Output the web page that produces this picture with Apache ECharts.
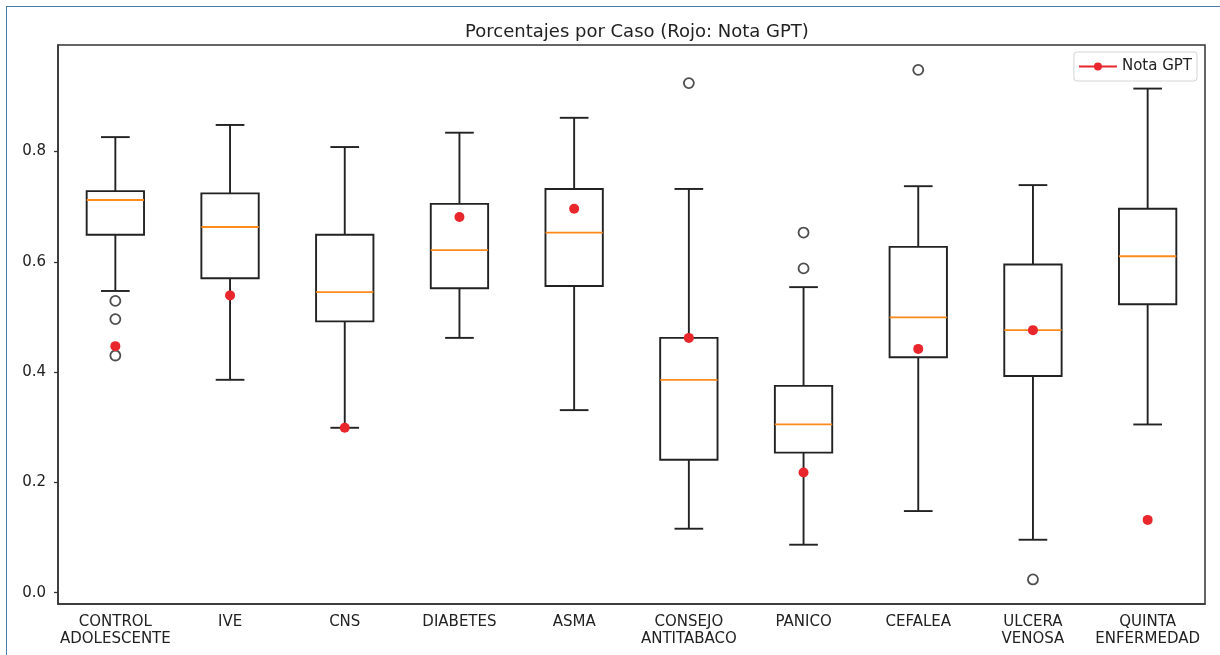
<!DOCTYPE html>
<html>
<head>
<meta charset="utf-8">
<title>Porcentajes por Caso</title>
<script src="https://cdn.jsdelivr.net/npm/echarts@6/dist/echarts.min.js"></script>
<style>
  html, body { margin: 0; padding: 0; background: #fff; }
  #frame {
    position: absolute; left: 6px; top: 6px; width: 1400px; height: 900px;
    border-left: 1.5px solid #4a7cab; border-top: 1.5px solid #4a7cab;
  }
  #main { position: absolute; left: 0; top: 0; width: 1220px; height: 655px; }
</style>
</head>
<body>
<div id="frame"></div>
<div id="main"></div>
<script>
// casos (eje x)
var cases = [
    'CONTROL\nADOLESCENTE', 'IVE', 'CNS', 'DIABETES', 'ASMA',
    'CONSEJO\nANTITABACO', 'PANICO', 'CEFALEA', 'ULCERA\nVENOSA', 'QUINTA\nENFERMEDAD'
];

// estadisticos de cada caja: bigote inferior, Q1, mediana, Q3, bigote superior
var whiskerLow = [0.547, 0.386, 0.299, 0.462, 0.331, 0.116, 0.087, 0.148, 0.096, 0.305];
var q1 =         [0.649, 0.570, 0.492, 0.552, 0.556, 0.241, 0.254, 0.427, 0.393, 0.523];
var median =     [0.712, 0.663, 0.545, 0.621, 0.653, 0.386, 0.305, 0.499, 0.476, 0.610];
var q3 =         [0.728, 0.724, 0.649, 0.705, 0.732, 0.462, 0.375, 0.627, 0.595, 0.696];
var whiskerHigh = [0.826, 0.848, 0.808, 0.834, 0.861, 0.732, 0.554, 0.737, 0.739, 0.914];

// valores atipicos por caso
var fliers = [
    [0.529, 0.496, 0.430], [], [], [], [],
    [0.924], [0.653, 0.588], [0.948], [0.024], []
];

// nota GPT (puntos rojos)
var notaGPT = [0.447, 0.539, 0.299, 0.681, 0.696, 0.462, 0.218, 0.442, 0.476, 0.132];

var yTicks = [0.0, 0.2, 0.4, 0.6, 0.8];

var boxData = [];
for (var i = 0; i < cases.length; i++) {
    boxData.push([i, whiskerLow[i], q1[i], median[i], q3[i], whiskerHigh[i]]);
}

var flierData = [];
fliers.forEach(function (vals, i) {
    vals.forEach(function (v) { flierData.push([i, v]); });
});

var gptData = notaGPT.map(function (v, i) { return [i, v]; });

function renderBox(params, api) {
    var x = api.value(0);
    var band = api.size([1, 0])[0];
    var half = band * 0.25;
    var cap = band * 0.125;
    var pLow = api.coord([x, api.value(1)]);
    var pQ1 = api.coord([x, api.value(2)]);
    var pMed = api.coord([x, api.value(3)]);
    var pQ3 = api.coord([x, api.value(4)]);
    var pHigh = api.coord([x, api.value(5)]);
    var cx = pQ1[0];
    var line = { stroke: '#222', lineWidth: 1.9, fill: null };
    return {
        type: 'group',
        children: [
            { type: 'line', shape: { x1: cx, y1: pQ3[1], x2: cx, y2: pHigh[1] }, style: line },
            { type: 'line', shape: { x1: cx, y1: pQ1[1], x2: cx, y2: pLow[1] }, style: line },
            { type: 'line', shape: { x1: cx - cap, y1: pHigh[1], x2: cx + cap, y2: pHigh[1] }, style: line },
            { type: 'line', shape: { x1: cx - cap, y1: pLow[1], x2: cx + cap, y2: pLow[1] }, style: line },
            { type: 'rect', shape: { x: cx - half, y: pQ3[1], width: half * 2, height: pQ1[1] - pQ3[1] }, style: line },
            { type: 'line', shape: { x1: cx - half, y1: pMed[1], x2: cx + half, y2: pMed[1] },
              style: { stroke: '#ff8a1c', lineWidth: 1.8 } }
        ]
    };
}

var chart = echarts.init(document.getElementById('main'));

var option = {
    animation: false,
    backgroundColor: 'transparent',
    title: {
        text: 'Porcentajes por Caso (Rojo: Nota GPT)',
        left: 632,
        top: 18,
        textAlign: 'center',
        textStyle: { fontFamily: 'DejaVu Sans', fontSize: 18, fontWeight: 'normal', color: '#222' }
    },
    legend: {
        data: ['Nota GPT'],
        right: 23,
        top: 52,
        padding: [7, 5, 7, 4],
        itemWidth: 38,
        itemHeight: 10,
        itemGap: 6,
        backgroundColor: '#fff',
        borderColor: '#d4d4d4',
        borderWidth: 1,
        borderRadius: 3,
        textStyle: { fontFamily: 'DejaVu Sans', fontSize: 15, color: '#222' },
        lineStyle: { color: '#e8262b', width: 2, opacity: 1 }
    },
    grid: {
        left: 58, right: 15, top: 45, bottom: 51,
        show: true, borderColor: '#333', borderWidth: 1.5, backgroundColor: '#fff'
    },
    xAxis: {
        type: 'category',
        data: cases,
        boundaryGap: true,
        axisLine: { onZero: false, lineStyle: { color: '#333', width: 1.5 } },
        axisTick: { alignWithLabel: true, length: 4, lineStyle: { color: '#333', width: 1.3 } },
        axisLabel: {
            interval: 0, margin: 10, fontFamily: 'DejaVu Sans', fontSize: 15,
            lineHeight: 17, color: '#222'
        },
        splitLine: { show: false }
    },
    yAxis: {
        type: 'value',
        min: -0.0205,
        max: 0.993,
        axisLine: { show: true, lineStyle: { color: '#333', width: 1.5 } },
        axisTick: { show: true, length: 4, customValues: yTicks, lineStyle: { color: '#333', width: 1.3 } },
        axisLabel: {
            customValues: yTicks, margin: 12, fontFamily: 'DejaVu Sans', fontSize: 15, color: '#222',
            formatter: function (v) { return v.toFixed(1); }
        },
        splitLine: { show: false }
    },
    series: [
        {
            name: 'Cajas',
            type: 'custom',
            renderItem: renderBox,
            data: boxData,
            encode: { x: 0, y: [1, 2, 3, 4, 5] },
            z: 2
        },
        {
            name: 'Atipicos',
            type: 'scatter',
            data: flierData,
            symbol: 'circle',
            symbolSize: 10,
            itemStyle: { color: 'rgba(0,0,0,0)', borderColor: '#222', borderWidth: 1.8 },
            z: 3
        },
        {
            name: 'Nota GPT',
            type: 'line',
            data: gptData,
            symbol: 'circle',
            symbolSize: 10,
            showSymbol: true,
            lineStyle: { width: 0, opacity: 0 },
            itemStyle: { color: '#e8262b' },
            z: 4
        }
    ]
};

chart.setOption(option);
</script>
</body>
</html>
